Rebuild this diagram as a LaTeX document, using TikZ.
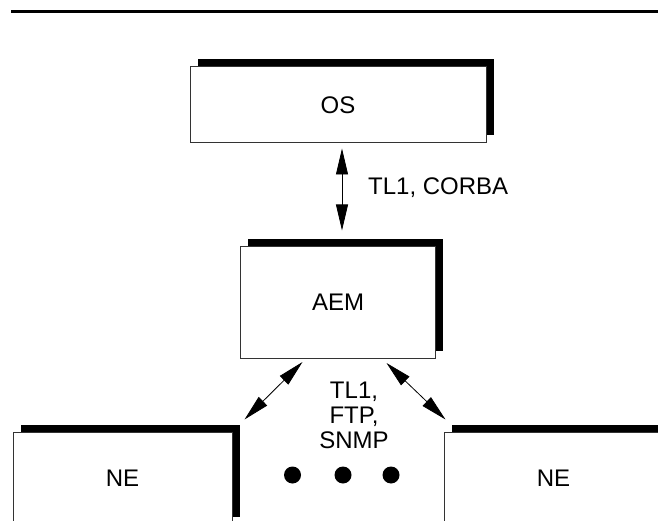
\documentclass[tikz,border=0pt]{standalone}
\usepackage{fontspec}
\setmainfont{Liberation Sans}
\usetikzlibrary{positioning,arrows.meta,shadows}

\begin{document}
\begin{tikzpicture}[
  x=1pt, y=-1pt,
  node distance=103pt,
  unit/.style={rectangle, draw=black!80, line width=1pt, fill=white,
    inner sep=0pt, font=\fontsize{24}{25}\selectfont,
    drop shadow={shadow xshift=7.5pt, shadow yshift=7.5pt, fill=black, opacity=1}},
  lbl/.style={inner sep=0pt, font=\fontsize{24}{25}\selectfont},
  arr/.style={{Triangle[length=26pt,width=12pt]}-{Triangle[length=26pt,width=12pt]}, line width=0.8pt},
  dotmark/.style={circle, fill=black, minimum size=17pt, inner sep=0pt}
]
\clip (0,0) rectangle (658,521);
\draw[line width=3pt] (11,12) -- (658,12);
\node[unit, minimum width=296pt, minimum height=76pt] (os) at (338,105) {OS};
\node[unit, minimum width=195pt, minimum height=111pt, below=of os] (aem) {AEM};
\node[unit, minimum width=219pt, minimum height=92pt] (neleft)  at (122.5,478) {NE};
\node[unit, minimum width=219pt, minimum height=92pt] (neright) at (553.5,478) {NE};
\node[lbl, anchor=base west] (tlcorba) at (368,195) {TL1, CORBA};
\node[lbl, align=center, anchor=north] (tlftp) at (354,382) {TL1,\\FTP,\\SNMP};
\foreach \i/\x in {1/292.5, 2/343, 3/391}
  \node[dotmark] (dot\i) at (\x,475) {};
\draw[arr, shorten <=5pt, shorten >=16pt] ([xshift=4pt]os.south) -- ([xshift=4pt]aem.north);
\draw[arr] ([shift={(-35.5,3.5)}]aem.south) -- ([shift={(12,-12)}]neleft.north east);
\draw[arr] ([shift={(48.5,4.5)}]aem.south) -- ([shift={(2,-12)}]neright.north west);
\end{tikzpicture}
\end{document}
